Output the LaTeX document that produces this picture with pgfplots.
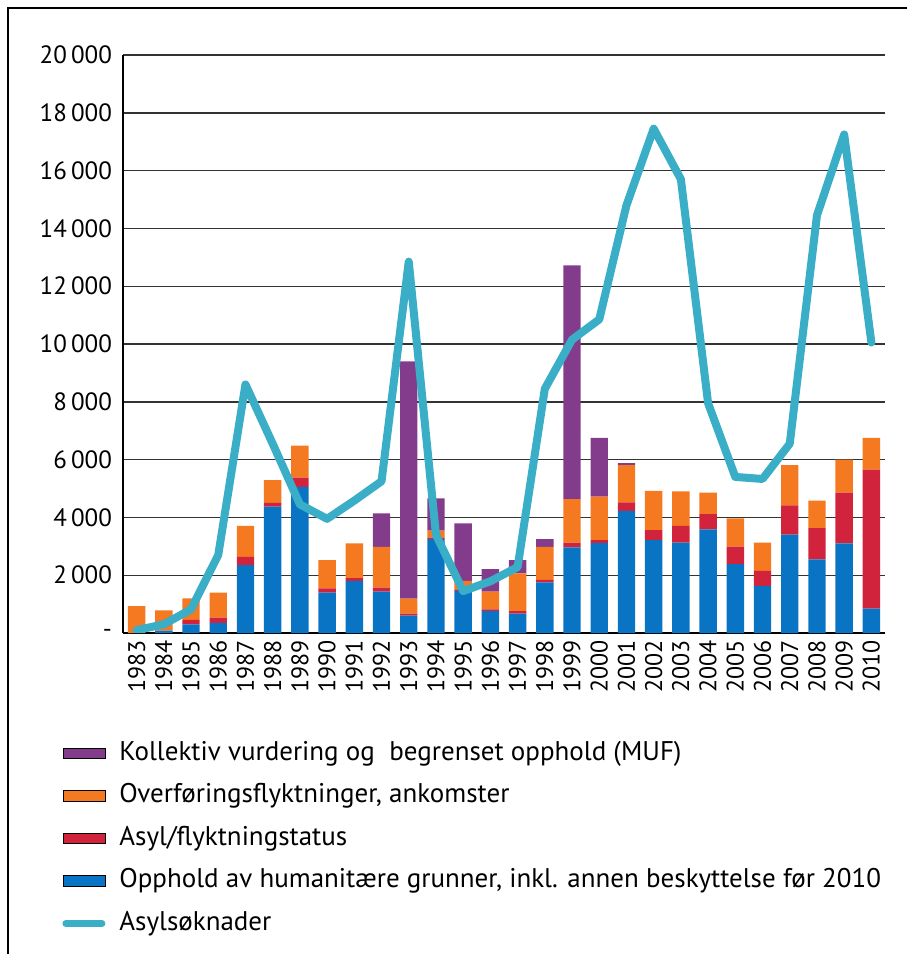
\documentclass[border=0pt]{standalone}
\usepackage{fontspec}
\setmainfont{PT Sans}
\usepackage{pgfplots}
\pgfplotsset{compat=1.18}
\usepackage{pgfplotstable}

\definecolor{muf}{HTML}{833C8C}
\definecolor{overf}{HTML}{F47920}
\definecolor{asyl}{HTML}{D2233C}
\definecolor{hum}{HTML}{0A74C4}
\definecolor{soknad}{HTML}{3AAEC6}

% stacked bars: humanitarian, asylum, transfer refugees, MUF
\pgfplotstableread{
year hum  asyl overf muf
1983 0    0    930   0
1984 80   0    700   0
1985 300  150  750   0
1986 350  180  870   0
1987 2350 280  1080  0
1988 4370 130  790   0
1989 5060 320  1100  0
1990 1400 140  980   0
1991 1800 100  1200  0
1992 1430 140  1410  1160
1993 600  70   520   8210
1994 3250 50   240   1120
1995 1460 30   310   1990
1996 760  60   610   780
1997 670  90   1300  460
1998 1750 90   1140  270
1999 2960 170  1500  8090
2000 3110 100  1510  2030
2001 4230 290  1290  70
2002 3210 350  1360  0
2003 3130 580  1190  0
2004 3590 520  750   0
2005 2380 610  980   0
2006 1630 520  980   0
2007 3400 1020 1390  0
2008 2550 1080 950   0
2009 3100 1760 1140  0
2010 840  4810 1100  0
}\bars

% asylum applications
\pgfplotstableread{
year n
1983 100
1984 300
1985 820
1986 2700
1987 8600
1988 6550
1989 4450
1990 3950
1991 4580
1992 5250
1993 12850
1994 3400
1995 1450
1996 1790
1997 2280
1998 8450
1999 10150
2000 10850
2001 14800
2002 17450
2003 15700
2004 7950
2005 5400
2006 5330
2007 6550
2008 14450
2009 17250
2010 10050
}\sok

\pgfplotsset{
  barleg/.style={legend image code/.code={\fill[##1] (0pt,-2.6pt) rectangle (21pt,2.6pt);}},
  lineleg/.style={legend image code/.code={\draw[##1, line width=3.5pt, line cap=round] (1.5pt,0pt) -- (19.5pt,0pt);}},
  frame/.style={at={(61.5pt,160.5pt)}, anchor=south west, scale only axis,
    width=381pt, height=289pt, xmin=1982.5, xmax=2010.5, ymin=0, ymax=20000,
    scaled x ticks=false, scaled y ticks=false},
}

\begin{document}
\begin{tikzpicture}
\useasboundingbox (0,0) rectangle (453.5pt,477pt);
\draw[line width=0.6pt] (4pt,0) -- (4pt,473pt) -- (453.5pt,473pt);

\begin{axis}[frame,
  ybar stacked, bar width=0.64,
  axis x line*=bottom, axis y line*=left,
  axis line style={-, black, line width=0.8pt},
  major tick length=0pt,
  ymajorgrids, grid style={black!80, line width=0.7pt},
  ytick={0,2000,...,20000},
  yticklabels={-,2\,000,4\,000,6\,000,8\,000,10\,000,12\,000,14\,000,16\,000,18\,000,20\,000},
  yticklabel style={font=\fontsize{12.5}{14}\selectfont, xshift=-2pt},
  xtick={1983,1984,...,2010},
  xticklabels={1983,1984,1985,1986,1987,1988,1989,1990,1991,1992,1993,1994,1995,1996,
    1997,1998,1999,2000,2001,2002,2003,2004,2005,2006,2007,2008,2009,2010},
  xticklabel style={rotate=90, anchor=east, font=\fontsize{12}{13}\selectfont},
  legend style={at={(0,0)}, anchor=north west, xshift=-30.5pt, yshift=-54pt,
    draw=none, fill=none, inner sep=0pt, row sep=9.25pt,
    nodes={inner sep=0pt, text height=9.5pt, text depth=2.5pt},
    font=\fontsize{13.5}{15}\selectfont,
    /tikz/every odd column/.append style={column sep=7pt}},
  legend cell align=left,
]
\addplot[fill=hum, draw=none, forget plot] table[x=year, y=hum] {\bars};
\addplot[fill=asyl, draw=none, forget plot] table[x=year, y=asyl] {\bars};
\addplot[fill=overf, draw=none, forget plot] table[x=year, y=overf] {\bars};
\addplot[fill=muf, draw=none, forget plot] table[x=year, y=muf] {\bars};

\addlegendimage{barleg, fill=muf}
\addlegendentry{Kollektiv vurdering og \ begrenset opphold (MUF)}
\addlegendimage{barleg, fill=overf}
\addlegendentry{Overføringsflyktninger, ankomster}
\addlegendimage{barleg, fill=asyl}
\addlegendentry{Asyl/flyktningstatus}
\addlegendimage{barleg, fill=hum}
\addlegendentry{Opphold av humanitære grunner, inkl. annen beskyttelse før 2010}
\addlegendimage{lineleg, draw=soknad}
\addlegendentry{Asylsøknader}
\end{axis}

\begin{axis}[frame, hide axis]
\addplot[soknad, line width=4pt, line join=round, line cap=round, mark=none]
  table[x=year, y=n] {\sok};
\end{axis}
\end{tikzpicture}
\end{document}
